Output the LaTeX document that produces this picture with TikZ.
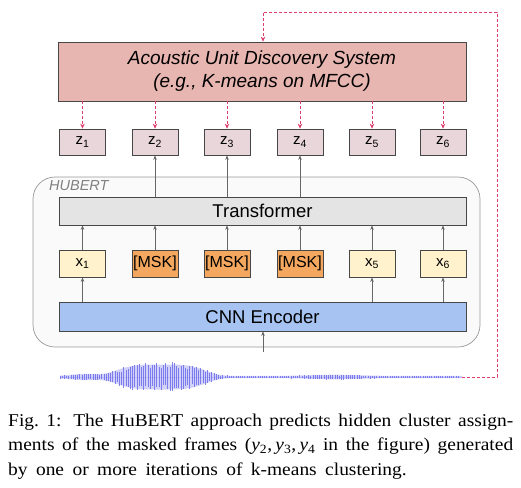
\documentclass[tikz,border=0pt]{standalone}
\usepackage{fontspec}
\setmainfont{Liberation Serif}
\newfontfamily\arial{Liberation Sans}
\usetikzlibrary{arrows.meta}
\definecolor{audfill}{HTML}{E8B6B1}
\definecolor{zfill}{HTML}{E8D6DB}
\definecolor{tfill}{HTML}{E4E4E4}
\definecolor{xfill}{HTML}{FFF2CC}
\definecolor{mfill}{HTML}{F4A75E}
\definecolor{cfill}{HTML}{A6C3F2}
\definecolor{redline}{HTML}{DC3F6C}
\definecolor{wave}{HTML}{5E5EEA}
\tikzset{
  declare function={wamp(\t)=1.2 + 13.5*exp(-((\t-161)/48)^4) + 2.4*exp(-((\t-85)/20)^2) + 1.5*exp(-((\t-335)/35)^2);},
  box/.style={draw=black!72, line width=0.7pt, inner sep=0pt, font=\arial},
  zbox/.style={box, fill=zfill, minimum width=46pt, minimum height=26pt, font=\arial\fontsize{15}{15}\selectfont},
  xbox/.style={box, fill=xfill, minimum width=46pt, minimum height=27pt, font=\arial\fontsize{15}{15}\selectfont},
  mbox/.style={box, fill=mfill, minimum width=46pt, minimum height=27pt, font=\arial\fontsize{16}{16}\selectfont},
  widebox/.style={box, minimum width=407pt, font=\arial\fontsize{18.5}{18.5}\selectfont},
  garrow/.style={draw=black!60, line width=0.6pt, -{Stealth[length=4.5pt,width=3.5pt]}},
  rarrow/.style={draw=redline, line width=0.7pt, dash pattern=on 3pt off 2pt, -{Stealth[length=5pt,width=4.5pt]}},
}
\newcommand{\capline}[2]{\scalebox{1.08}[1]{\makebox[#1][s]{#2}}}
\begin{document}
\begin{tikzpicture}[x=1pt,y=-1pt]
\useasboundingbox (0,0) rectangle (521,487);
% HuBERT container
\node[draw=black!40, line width=0.7pt, fill=black!2, rounded corners=22pt, minimum width=447pt, minimum height=170pt] (hub) at (256.5,262) {};
\node[anchor=west, font=\arial\itshape\fontsize{14.5}{14.5}\selectfont, text=black!50, inner sep=0pt] (hlabel) at (49,186) {HUBERT};
% top system
\node[box, fill=audfill, minimum width=408pt, minimum height=59pt, align=center, font=\arial\itshape\fontsize{19}{23}\selectfont] (aud) at (262,71.5) {Acoustic Unit Discovery System\\(e.g., K-means on MFCC)};
% z boxes
\foreach \i/\x in {1/82.5,2/155,3/227,4/300,5/372,6/443}{
  \node[zbox] (z\i) at (\x,142) {z\textsubscript{\i}};
}
% transformer
\node[widebox, fill=tfill, minimum height=28pt] (tr) at (262.5,211) {Transformer};
% x boxes
\node[xbox] (x1) at (82.5,263.5) {x\textsubscript{1}};
\node[mbox] (x2) at (155,263.5) {[MSK]};
\node[mbox] (x3) at (227,263.5) {[MSK]};
\node[mbox] (x4) at (300,263.5) {[MSK]};
\node[xbox] (x5) at (372,263.5) {x\textsubscript{5}};
\node[xbox] (x6) at (443,263.5) {x\textsubscript{6}};
% CNN
\node[widebox, fill=cfill, minimum height=29pt] (cnn) at (262.5,316.5) {CNN Encoder};
% arrows
\foreach \i in {1,...,6}{
  \draw[rarrow] (aud.south -| z\i) -- (z\i.north);
  \draw[garrow] (x\i.north) -- (tr.south -| x\i);
}
\foreach \i in {2,3,4}{ \draw[garrow] (tr.north -| z\i) -- (z\i.south); }
\foreach \i in {1,5,6}{ \draw[garrow] (cnn.north -| x\i) -- (x\i.south); }
\coordinate (win) at (263,352);
\draw[garrow] (win) -- (cnn.south -| win);
% waveform
\fill[wave!28] plot[domain=60:462, samples=220] (\x,{377-0.85*wamp(\x)}) -- plot[domain=462:60, samples=220] (\x,{377+0.85*wamp(\x)}) -- cycle;
\draw[wave!40, line width=1pt] (60,377) -- (462,377);
\pgfmathsetseed{5}
\foreach \x in {60,62.2,...,460}{
  \pgfmathsetmacro{\ra}{wamp(\x)*(0.55+0.45*rnd)}
  \pgfmathsetmacro{\rb}{wamp(\x)*(0.55+0.45*rnd)}
  \draw[wave, opacity=0.75, line width=0.65pt] (\x,377-\ra) -- (\x,377+\rb);
}
\coordinate (wend) at (462,377);
% feedback loop
\draw[rarrow] (wend) -- (497,377) -- (497,12) -- (263,12) -- (aud.north -| 263,0);
% caption
\node[anchor=north west, inner sep=0pt, align=left, font=\fontsize{18}{24.7}\selectfont] (cap) at (8,413.5) {%
\capline{467.6pt}{Fig.~1: The HuBERT approach predicts hidden cluster assign-}\\
\capline{467.6pt}{ments of the masked frames (\textit{y}\textsubscript{2},\,\textit{y}\textsubscript{3},\,\textit{y}\textsubscript{4} in the figure) generated}\\
\capline{369pt}{by one or more iterations of k-means clustering.}};
\end{tikzpicture}
\end{document}
